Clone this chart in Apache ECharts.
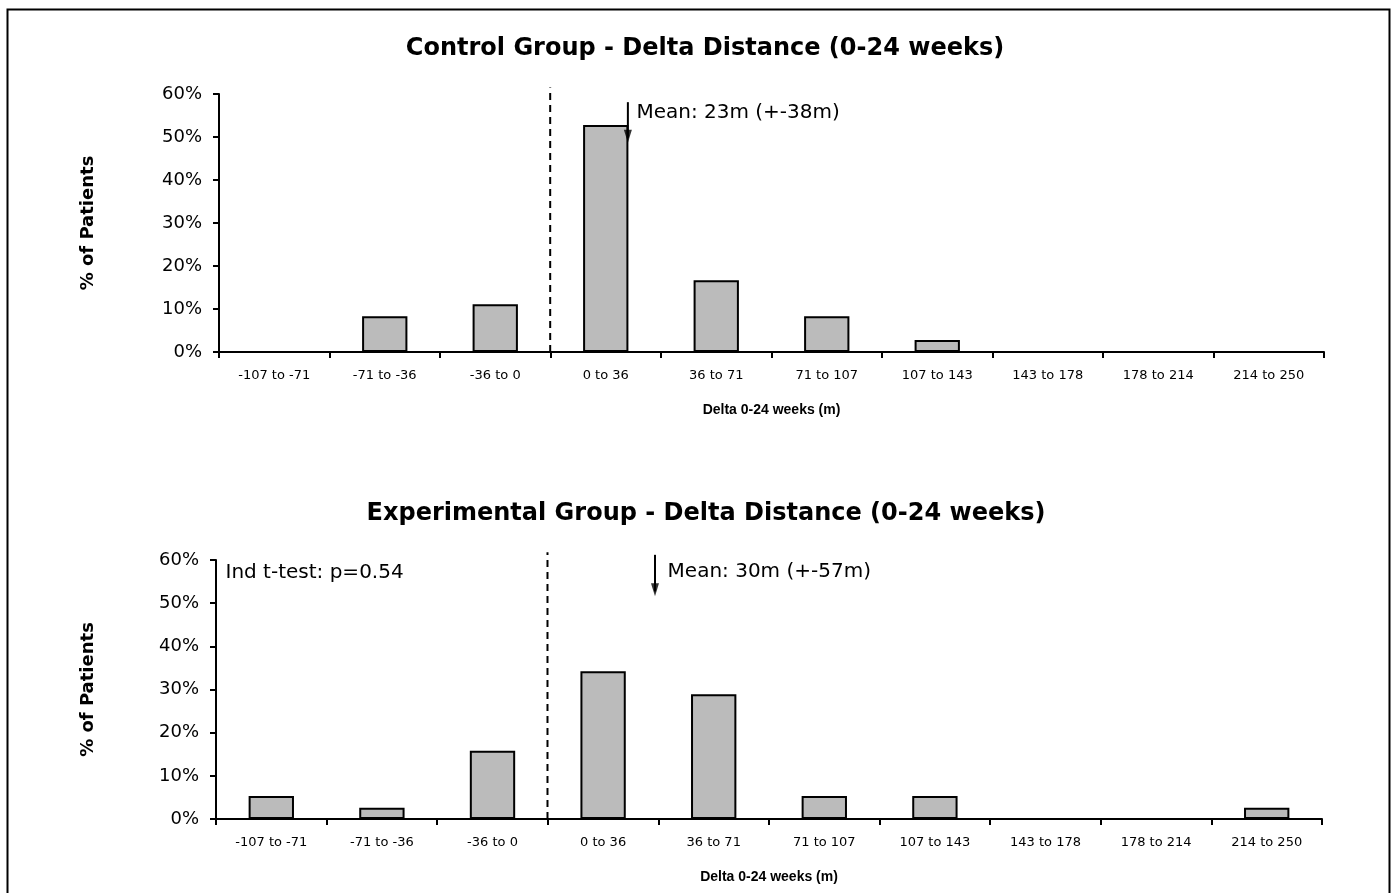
<!DOCTYPE html>
<html><head><meta charset="utf-8">
<script src="https://cdn.jsdelivr.net/npm/echarts@6/dist/echarts.min.js"></script>
<style>html,body{margin:0;padding:0;background:#fff}#c{width:1393px;height:893px}</style>
</head><body><div id="c"></div>
<script>
// ---- data ----
const categories = ['-107 to -71', '-71 to -36', '-36 to 0', '0 to 36', '36 to 71', '71 to 107', '107 to 143', '143 to 178', '178 to 214', '214 to 250'];
const controlPct = [0, 8.3, 11.1, 52.8, 16.7, 8.3, 2.8, 0, 0, 0];
const experimentalPct = [5.3, 2.6, 15.8, 34.2, 28.9, 5.3, 5.3, 0, 0, 2.6];
const chartTitles = ['Control Group - Delta Distance (0-24 weeks)', 'Experimental Group - Delta Distance (0-24 weeks)'];
const yAxisName = '% of Patients';
const xAxisName = 'Delta 0-24 weeks (m)';
const yTicks = [0, 10, 20, 30, 40, 50, 60];
const binRange = [-107, 250];           // metres covered by the 10 bins
const zeroLineX = 0;                    // dashed line at 0 m
const zeroLineTop = [61.5, 61.8];       // % (top of dashed line)
const meanArrowX = [25.1, 34.7];        // metres (arrow position as drawn)
const meanArrowTop = [58.1, 61.2];      // %
const meanArrowBottom = [48.8, 51.7];   // %
const meanLabels = ['Mean: 23m (+-38m)', 'Mean: 30m (+-57m)'];
const meanLabelPos = [[27.7, 55.6], [38.6, 57.2]];
const testLabel = 'Ind t-test: p=0.54';
const testLabelPos = [-104.1, 57.0];

const FONT = 'DejaVu Sans';
const grids = [
  {left: 219, top: 94, width: 1105, height: 258},
  {left: 216, top: 560, width: 1106, height: 259}
];

function catAxis(gi) {
  return {
    type: 'category', gridIndex: gi, data: categories,
    boundaryGap: true,
    axisLine: {onZero: false, lineStyle: {color: '#000', width: 2}},
    axisTick: {show: true, length: 6, interval: 0, lineStyle: {color: '#000', width: 2}},
    axisLabel: {interval: 0, margin: 17, color: '#000', fontFamily: FONT, fontSize: 13},
    name: xAxisName, nameLocation: 'middle', nameGap: 51,
    nameTextStyle: {color: '#000', fontFamily: 'Liberation Sans', fontWeight: 'bold', fontSize: 14},
    splitLine: {show: false}
  };
}
function valXAxis(gi) {
  return {type: 'value', gridIndex: gi, min: binRange[0], max: binRange[1], show: false,
          axisLine: {show: false, onZero: false}, splitLine: {show: false}};
}
function yAxis(gi, gap) {
  return {
    type: 'value', gridIndex: gi, min: yTicks[0], max: yTicks[yTicks.length - 1], interval: yTicks[1] - yTicks[0],
    axisLine: {show: true, onZero: false, lineStyle: {color: '#000', width: 2}},
    axisTick: {show: true, length: 6, lineStyle: {color: '#000', width: 2}},
    axisLabel: {formatter: '{value}%', margin: 17, color: '#000', fontFamily: FONT, fontSize: 18},
    splitLine: {show: false},
    name: yAxisName, nameLocation: 'middle', nameGap: gap, nameRotate: 90,
    nameTextStyle: {color: '#000', fontFamily: FONT, fontWeight: 'bold', fontSize: 18}
  };
}
function barSeries(xi, yi, data) {
  return {
    type: 'bar', xAxisIndex: xi, yAxisIndex: yi, data: data, barWidth: '41%',
    itemStyle: {color: '#BBBBBB', borderColor: '#000', borderWidth: 2},
    silent: true
  };
}
function lineSeries(xi, yi, pts, type, w) {
  return {
    type: 'line', xAxisIndex: xi, yAxisIndex: yi, data: pts, clip: false,
    symbol: 'none', silent: true, z: 4,
    lineStyle: {color: '#000', width: w, type: type}
  };
}
function arrowHead(i, xi, yi) {
  return {
    type: 'scatter', xAxisIndex: xi, yAxisIndex: yi, clip: false,
    data: [[meanArrowX[i], meanArrowBottom[i]]],
    symbol: 'triangle', symbolSize: [8, 13], symbolRotate: 180, symbolOffset: [0, -6],
    itemStyle: {color: '#000'}, silent: true, z: 5
  };
}
function textSeries(xi, yi, pos, text) {
  return {
    type: 'scatter', xAxisIndex: xi, yAxisIndex: yi, data: [pos], clip: false,
    symbolSize: 1, itemStyle: {color: '#fff', opacity: 1}, silent: true,
    label: {show: true, position: 'right', distance: 0, formatter: text, color: '#000', opacity: 1,
            fontFamily: FONT, fontSize: 20, textBorderWidth: 0}
  };
}

const series = [barSeries(0, 0, controlPct), barSeries(2, 1, experimentalPct)];
[[1, 0], [3, 1]].forEach(function (ax, i) {
  series.push(lineSeries(ax[0], ax[1], [[zeroLineX, 0], [zeroLineX, zeroLineTop[i]]], [7, 5], 2));
  series.push(lineSeries(ax[0], ax[1], [[meanArrowX[i], meanArrowTop[i]], [meanArrowX[i], meanArrowBottom[i] + 1]], 'solid', 2));
  series.push(arrowHead(i, ax[0], ax[1]));
  series.push(textSeries(ax[0], ax[1], meanLabelPos[i], meanLabels[i]));
});
series.push(textSeries(3, 1, testLabelPos, testLabel));

const option = {
  animation: false,
  backgroundColor: '#fff',
  title: [
    {text: chartTitles[0], left: 700, top: 32, textAlign: 'center', textStyle: {color: '#000', fontFamily: FONT, fontWeight: 'bold', fontSize: 24}},
    {text: chartTitles[1], left: 701, top: 497, textAlign: 'center', textStyle: {color: '#000', fontFamily: FONT, fontWeight: 'bold', fontSize: 24}}
  ],
  grid: grids,
  xAxis: [catAxis(0), valXAxis(0), catAxis(1), valXAxis(1)],
  yAxis: [yAxis(0, 122), yAxis(1, 119)],
  series: series,
  graphic: [
    {type: 'rect', left: 5, top: 7, shape: {width: 1382, height: 900}, style: {fill: 'none', stroke: '#000', lineWidth: 2}, silent: true}
  ]
};
const chart = echarts.init(document.getElementById('c'));
chart.setOption(option);
</script></body></html>
